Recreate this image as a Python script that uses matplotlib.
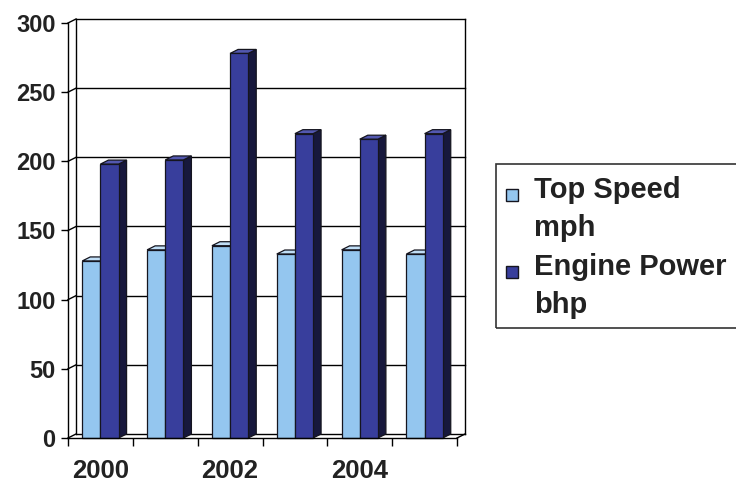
import matplotlib.pyplot as plt
from matplotlib.patches import Rectangle, Polygon

years = ['2000', '2001', '2002', '2003', '2004', '2005']
top_speed = [128, 136, 139, 133, 136, 133]      # mph
engine_power = [198, 201, 278, 220, 216, 220]   # bhp
series_names = ['Top Speed\nmph', 'Engine Power\nbhp']
yticks = [0, 50, 100, 150, 200, 250, 300]

# face colours: front, side, top
light = ('#94c6ef', '#4a7aa0', '#c0def6')
dark = ('#383e9c', '#17183c', '#5358b0')
edge = '#15151f'
txt = '#222222'

plt.rcParams['font.family'] = ['Liberation Sans', 'DejaVu Sans']
fig = plt.figure(figsize=(7.36, 4.84), dpi=100)
ax = fig.add_axes([68/736, 46/484, 389/736, 415/484])
ax.set_xlim(0, len(years))
ax.set_ylim(0, 300)

# depth of the pseudo-3d box in data units (8px right, 4px up)
bb = ax.get_window_extent()
ddx = 8 / (bb.width / len(years))
ddy = 4 / (bb.height / 300)

# back wall with gridlines, plus short side-wall segments
for v in yticks:
    ax.plot([ddx, len(years) + ddx], [v + ddy, v + ddy], color='k', lw=1, clip_on=False, zorder=1)
    ax.plot([0, ddx], [v, v + ddy], color='k', lw=1, clip_on=False, zorder=1)
ax.plot([ddx, ddx], [ddy, 300 + ddy], color='k', lw=1, clip_on=False, zorder=1)
ax.plot([len(years) + ddx] * 2, [ddy, 300 + ddy], color='k', lw=1, clip_on=False, zorder=1)
ax.plot([len(years), len(years) + ddx], [0, ddy], color='k', lw=1, clip_on=False, zorder=1)

bw = 0.28
z = 3
for i in range(len(years)):
    for s, (vals, col) in enumerate([(top_speed, light), (engine_power, dark)]):
        v = vals[i]
        x0 = i + 0.22 + s * bw
        x1 = x0 + bw
        side = Polygon([(x1, 0), (x1 + ddx, ddy), (x1 + ddx, v + ddy), (x1, v)],
                       fc=col[1], ec=edge, lw=0.9, zorder=z)
        top = Polygon([(x0, v), (x1, v), (x1 + ddx, v + ddy), (x0 + ddx, v + ddy)],
                      fc=col[2], ec=edge, lw=0.9, zorder=z)
        front = Rectangle((x0, 0), bw, v, fc=col[0], ec=edge, lw=0.9, zorder=z + 1)
        for p in (side, top, front):
            p.set_clip_on(False)
            ax.add_patch(p)
        z += 2

for sp in ['top', 'right']:
    ax.spines[sp].set_visible(False)
for sp in ['left', 'bottom']:
    ax.spines[sp].set_color('k')
    ax.spines[sp].set_linewidth(1)
    ax.spines[sp].set_zorder(30)
ax.set_facecolor('none')

ax.set_yticks(yticks)
ax.set_yticklabels([str(t) for t in yticks], fontsize=17, fontweight='bold', color=txt)
ax.tick_params(axis='y', direction='out', length=5, width=1, pad=4)
ax.set_xticks(range(len(years) + 1))
ax.set_xticklabels([])
ax.tick_params(axis='x', which='major', direction='out', length=6, width=1)
ax.set_xticks([0.5, 2.5, 4.5], minor=True)
ax.set_xticklabels(years[::2], minor=True, fontsize=18.5, fontweight='bold', color=txt)
ax.tick_params(axis='x', which='minor', length=0, pad=15)

# legend box, drawn in pixel coordinates of the figure
W, H = 736, 484
fig.patches.append(Rectangle((496 / W, 1 - 328 / H), 250 / W, 164 / H, transform=fig.transFigure,
                             fill=False, ec='#333333', lw=1.2))
for name, col, yb in [(series_names[0], light, 198), (series_names[1], dark, 275)]:
    fig.patches.append(Rectangle((506 / W, 1 - (yb + 3) / H), 12 / W, 12 / H, transform=fig.transFigure,
                                 fc=col[0], ec=edge, lw=1))
    first, second = name.split('\n')
    fig.text(534 / W, 1 - yb / H, first, fontsize=21, fontweight='bold', color=txt, va='baseline')
    fig.text(534 / W, 1 - (yb + 38) / H, second, fontsize=21, fontweight='bold', color=txt, va='baseline')

fig.savefig('out.png', dpi=100, facecolor='white')
